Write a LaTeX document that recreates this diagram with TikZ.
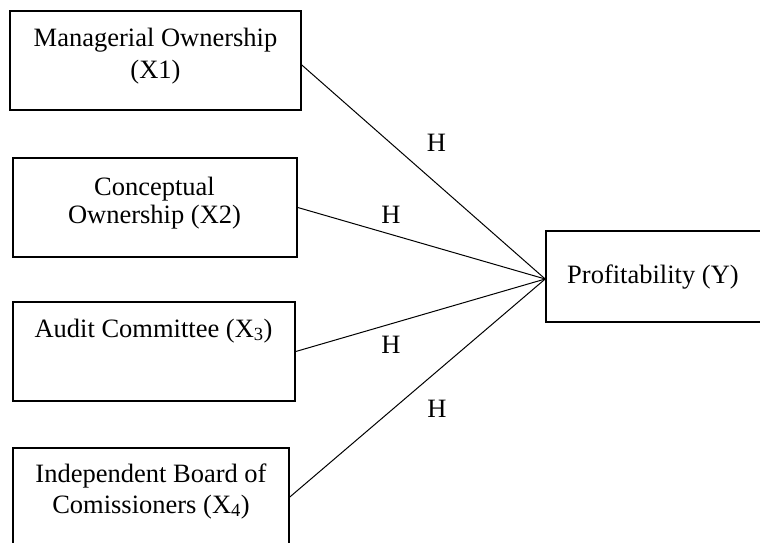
\documentclass[tikz,border=0pt]{standalone}
\usepackage{fontspec}
\setmainfont{Liberation Serif}
\begin{document}
\begin{tikzpicture}[x=1pt,y=-1pt,
  box/.style={draw=black, line width=1.6pt, inner sep=0pt},
  txt/.style={inner sep=0pt, anchor=base, font=\fontsize{26.5}{31}\selectfont},
  link/.style={draw=black, line width=1pt}]
\useasboundingbox (0,0) rectangle (760,543);
% boxes
\node[box, minimum width=291pt, minimum height=99pt] (x1) at (155.5,60.5) {};
\node[box, minimum width=284pt, minimum height=99pt] (x2) at (155,207.5) {};
\node[box, minimum width=282pt, minimum height=99pt] (x3) at (154,351.5) {};
\node[box, minimum width=276pt, minimum height=98pt] (x4) at (151,497) {};
\node[box, minimum width=254pt, minimum height=91pt] (y) at (673,276.5) {};
% texts
\node[txt] (t1a) at (155.5,47) {Managerial Ownership};
\node[txt] (t1b) at (155.5,78) {(X1)};
\node[txt] (t2a) at (154.5,195) {Conceptual};
\node[txt] (t2b) at (154.5,223) {Ownership (X2)};
\node[txt] (t3a) at (153.5,337) {Audit Committee (X\textsubscript{3})};
\node[txt] (t4a) at (151,482) {Independent Board of};
\node[txt] (t4b) at (151,513) {Comissioners (X\textsubscript{4})};
\node[txt, anchor=base west] (ty) at (567,283) {Profitability (Y)};
% connectors
\coordinate (yin) at ([yshift=-2.5pt]y.west);
\coordinate (s1) at ([yshift=-4.5pt]x1.east);
\draw[link] (s1) -- (yin);
\draw[link] (x2.east) -- (yin);
\draw[link] (x3.east) -- (yin);
\draw[link] (x4.east) -- (yin);
% labels
\node[txt] (h1) at (436.5,151.5) {H};
\node[txt] (h2) at (391,223) {H};
\node[txt] (h3) at (391,353) {H};
\node[txt] (h4) at (437,417) {H};
\end{tikzpicture}
\end{document}
